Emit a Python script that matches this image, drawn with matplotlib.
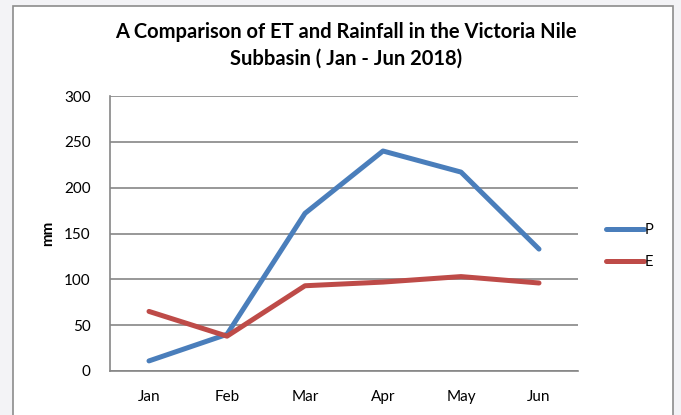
import matplotlib.pyplot as plt
from matplotlib.patches import Rectangle

months = ['Jan', 'Feb', 'Mar', 'Apr', 'May', 'Jun']
rain_p = [11, 40, 172, 240, 217, 133]
et_e = [65, 38, 93, 97, 103, 96]

plt.rcParams['font.family'] = ['Lato', 'DejaVu Sans']

fig = plt.figure(figsize=(6.81, 4.15), dpi=100)
fig.patch.set_facecolor('#f3f3f6')
# white chart box with grey border
fig.patches.append(Rectangle((13 / 681, -0.05), 660 / 681, 1.05 - 6 / 415,
                             transform=fig.transFigure, facecolor='white',
                             edgecolor='#8c8c8c', linewidth=1.2, zorder=-5))

ax = fig.add_axes([110 / 681, 1 - 371 / 415, 468 / 681, 275 / 415])
ax.set_facecolor('white')
x = range(len(months))
ax.plot(x, rain_p, color='#4a7ebb', linewidth=3.6, solid_capstyle='round', label='P', zorder=3)
ax.plot(x, et_e, color='#be4b48', linewidth=3.6, solid_capstyle='round', label='E', zorder=3)

ax.set_xlim(-0.5, 5.5)
ax.set_ylim(0, 300)
ax.set_yticks(range(0, 301, 50))
ax.set_xticks(list(x))
ax.set_xticklabels(months)
ax.yaxis.grid(True, color='#868686', linewidth=1.2)
ax.set_axisbelow(True)
for s in ['top', 'right']:
    ax.spines[s].set_visible(False)
for s in ['left', 'bottom']:
    ax.spines[s].set_color('#868686')
    ax.spines[s].set_linewidth(1.2)
ax.tick_params(length=0, labelsize=11, pad=14)
ax.tick_params(axis='x', pad=14)
ax.set_ylabel('mm', fontsize=11, fontweight='bold', labelpad=6)

fig.text(346 / 681, 1 - 45 / 415, 'A Comparison of ET and Rainfall in the Victoria Nile\nSubbasin ( Jan - Jun 2018)',
         ha='center', va='center', fontsize=14.5, fontweight='bold', linespacing=1.4)

fig.legend(loc='center left', bbox_to_anchor=(593 / 681, 1 - 246 / 415), frameon=False,
           fontsize=10.5, handlelength=2.6, handletextpad=0.05, labelspacing=1.2)

fig.savefig('out.png', dpi=100)
